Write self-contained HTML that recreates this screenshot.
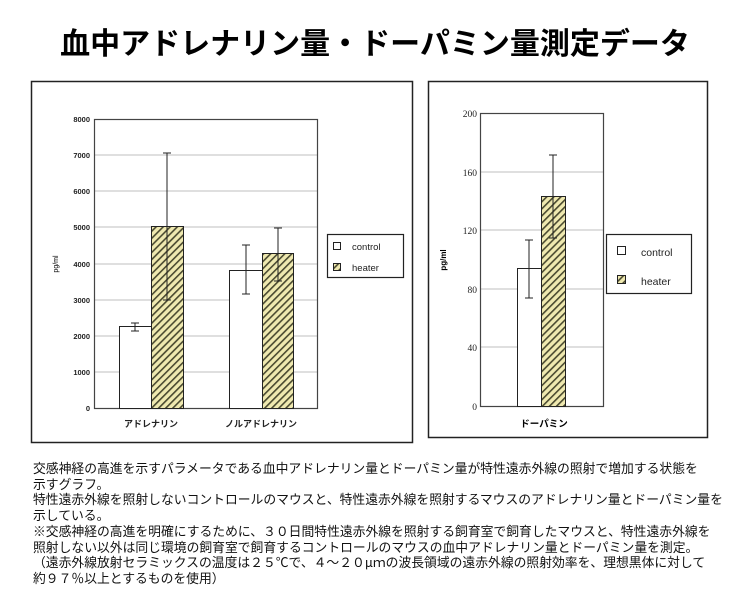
<!DOCTYPE html>
<html><head><meta charset="utf-8"><style>
html,body{margin:0;padding:0;background:#fff;}
body{width:750px;height:609px;position:relative;overflow:hidden;font-family:"Liberation Sans","Noto Sans CJK JP",sans-serif;}
.t{position:absolute;left:0;top:22px;width:750px;text-align:center;font-family:"Noto Sans CJK JP",sans-serif;font-weight:bold;font-size:30px;line-height:38px;letter-spacing:0px;}
.d{position:absolute;left:33px;top:460px;font-family:"Noto Sans CJK JP",sans-serif;font-size:12.8px;line-height:15.7px;white-space:nowrap;color:#111;}
svg{position:absolute;left:0;top:0;}
</style></head><body>
<div class="t">血中アドレナリン量・ドーパミン量測定データ</div>
<svg width="750" height="609" font-family="Liberation Sans, Noto Sans CJK JP, sans-serif">
<defs>
<pattern id="h" patternUnits="userSpaceOnUse" width="5" height="5" patternTransform="rotate(45)">
<rect width="5" height="5" fill="#efe9b0"/><rect width="1.6" height="5" fill="#4a4a30"/>
</pattern>
</defs>
<rect x="31.5" y="81.5" width="381" height="361" fill="none" stroke="#222" stroke-width="1.5"/>
<g stroke="#aaa" stroke-width="0.8">
<line x1="94" y1="155" x2="317" y2="155"/><line x1="94" y1="191" x2="317" y2="191"/>
<line x1="94" y1="227" x2="317" y2="227"/><line x1="94" y1="264" x2="317" y2="264"/>
<line x1="94" y1="300" x2="317" y2="300"/><line x1="94" y1="336" x2="317" y2="336"/>
<line x1="94" y1="372" x2="317" y2="372"/>
</g>
<rect x="94.5" y="119.5" width="223" height="289" fill="none" stroke="#444" stroke-width="1.2"/>
<g font-size="7.5" font-weight="bold" text-anchor="end" fill="#222">
<text x="90" y="122">8000</text><text x="90" y="158">7000</text><text x="90" y="194">6000</text>
<text x="90" y="230">5000</text><text x="90" y="267">4000</text><text x="90" y="303">3000</text>
<text x="90" y="339">2000</text><text x="90" y="375">1000</text><text x="90" y="411">0</text>
</g>
<text transform="translate(58,264) rotate(-90)" font-size="7" text-anchor="middle">pg/ml</text>
<rect x="119.5" y="326.5" width="32" height="82" fill="#fff" stroke="#222"/>
<rect x="151.5" y="226.5" width="32" height="182" fill="url(#h)" stroke="#222"/>
<rect x="229.5" y="270.5" width="33" height="138" fill="#fff" stroke="#222"/>
<rect x="262.5" y="253.5" width="31" height="155" fill="url(#h)" stroke="#222"/>
<g stroke="#222" stroke-width="1">
<line x1="135" y1="323" x2="135" y2="331"/><line x1="131" y1="323" x2="139" y2="323"/><line x1="131" y1="331" x2="139" y2="331"/>
<line x1="167" y1="153" x2="167" y2="300"/><line x1="163" y1="153" x2="171" y2="153"/><line x1="163" y1="300" x2="171" y2="300"/>
<line x1="246" y1="245" x2="246" y2="294"/><line x1="242" y1="245" x2="250" y2="245"/><line x1="242" y1="294" x2="250" y2="294"/>
<line x1="278" y1="228" x2="278" y2="281"/><line x1="274" y1="228" x2="282" y2="228"/><line x1="274" y1="281" x2="282" y2="281"/>
</g>
<g font-size="9" font-weight="bold" text-anchor="middle" fill="#222" font-family="Noto Sans CJK JP, sans-serif">
<text x="151" y="427">アドレナリン</text><text x="261" y="427">ノルアドレナリン</text>
</g>
<rect x="327.5" y="234.5" width="76" height="43" fill="#fff" stroke="#222" stroke-width="1.2"/>
<rect x="333.5" y="242.5" width="7" height="7" fill="#fff" stroke="#222"/>
<rect x="333.5" y="263.5" width="7" height="7" fill="url(#h)" stroke="#222"/>
<g font-size="9.5" fill="#222"><text x="352" y="250">control</text><text x="352" y="271">heater</text></g>
<rect x="428.5" y="81.5" width="279" height="356" fill="none" stroke="#222" stroke-width="1.5"/>
<g stroke="#aaa" stroke-width="0.8">
<line x1="480" y1="172" x2="603" y2="172"/><line x1="480" y1="230" x2="603" y2="230"/>
<line x1="480" y1="289" x2="603" y2="289"/><line x1="480" y1="347" x2="603" y2="347"/>
</g>
<rect x="480.5" y="113.5" width="123" height="293" fill="none" stroke="#444" stroke-width="1.2"/>
<g font-size="9.5" text-anchor="end" fill="#222" font-family="Liberation Serif, serif">
<text x="477" y="117">200</text><text x="477" y="176">160</text><text x="477" y="234">120</text>
<text x="477" y="293">80</text><text x="477" y="351">40</text><text x="477" y="410">0</text>
</g>
<text transform="translate(446,260) rotate(-90)" font-size="8" font-weight="bold" text-anchor="middle">pg/ml</text>
<rect x="517.5" y="268.5" width="24" height="138" fill="#fff" stroke="#222"/>
<rect x="541.5" y="196.5" width="24" height="210" fill="url(#h)" stroke="#222"/>
<g stroke="#222" stroke-width="1">
<line x1="529" y1="240" x2="529" y2="298"/><line x1="525" y1="240" x2="533" y2="240"/><line x1="525" y1="298" x2="533" y2="298"/>
<line x1="553" y1="155" x2="553" y2="238"/><line x1="549" y1="155" x2="557" y2="155"/><line x1="549" y1="238" x2="557" y2="238"/>
</g>
<text x="544" y="427" font-size="9.5" font-weight="bold" text-anchor="middle" font-family="Noto Sans CJK JP, sans-serif">ドーパミン</text>
<rect x="606.5" y="234.5" width="85" height="59" fill="#fff" stroke="#222" stroke-width="1.2"/>
<rect x="617.5" y="246.5" width="8" height="8" fill="#fff" stroke="#222"/>
<rect x="617.5" y="275.5" width="8" height="8" fill="url(#h)" stroke="#222"/>
<g font-size="10.5" fill="#222"><text x="641" y="256">control</text><text x="641" y="285">heater</text></g>
</svg>
<div class="d">交感神経の高進を示すパラメータである血中アドレナリン量とドーパミン量が特性遠赤外線の照射で増加する状態を<br>示すグラフ。<br>特性遠赤外線を照射しないコントロールのマウスと、特性遠赤外線を照射するマウスのアドレナリン量とドーパミン量を<br>示している。<br>※交感神経の高進を明確にするために、３０日間特性遠赤外線を照射する飼育室で飼育したマウスと、特性遠赤外線を<br>照射しない以外は同じ環境の飼育室で飼育するコントロールのマウスの血中アドレナリン量とドーパミン量を測定。<br>（遠赤外線放射セラミックスの温度は２５℃で、４～２０μｍの波長領域の遠赤外線の照射効率を、理想黒体に対して<br>約９７％以上とするものを使用）</div>
</body></html>
